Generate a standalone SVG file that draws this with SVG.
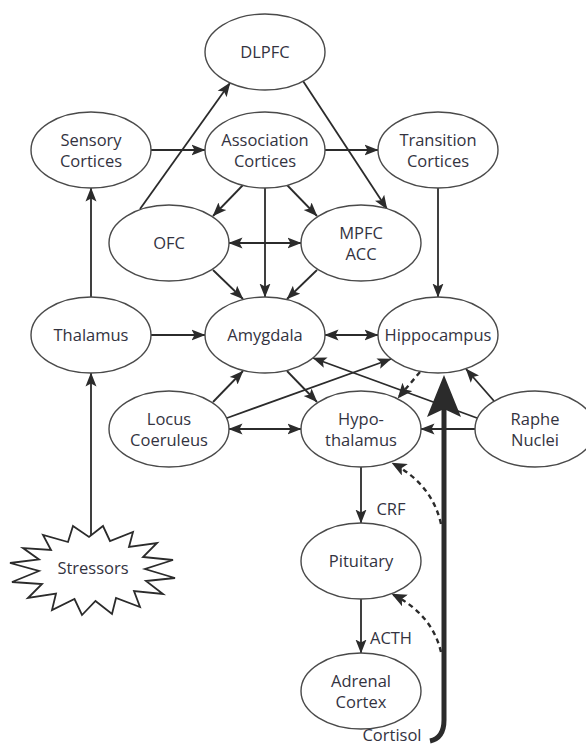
<svg xmlns="http://www.w3.org/2000/svg" width="586" height="749" viewBox="0 0 586 749">
<style>
.node ellipse{fill:#fff;stroke:#4a4a4a;stroke-width:1.4}
.node text,.lbl{font-family:"Open Sans","Noto Sans","DejaVu Sans",sans-serif;font-size:16.5px;fill:#33333f;text-anchor:middle}
.c{fill:none;stroke:#2b2b2b;stroke-width:1.8;marker-end:url(#ah)}
.b{marker-start:url(#ah)}
.d{fill:none;stroke:#2b2b2b;stroke-width:2.4;stroke-dasharray:5 4;marker-end:url(#ahd)}
</style>
<defs>
<marker id="ah" markerUnits="userSpaceOnUse" markerWidth="14" markerHeight="12" viewBox="0 0 14 11" refX="13.5" refY="5.5" orient="auto-start-reverse">
<path d="M0,0 L14,5.5 L0,11 L3,5.5 z" fill="#2b2b2b"/>
</marker>
<marker id="ahd" markerUnits="userSpaceOnUse" markerWidth="15" markerHeight="13" viewBox="0 0 15 13" refX="14.5" refY="6.5" orient="auto">
<path d="M0,0 L15,6.5 L0,13 L3.5,6.5 z" fill="#2b2b2b"/>
</marker>
</defs>
<rect width="586" height="749" fill="#fff"/>

<g id="connectors">
<path class="c" d="M91,297 L91,188"/>
<path class="c" d="M91,537 L91,373"/>
<path class="c" d="M151,335 L205,335"/>
<path class="c" d="M151,150 L205,150"/>
<path class="c" d="M325,150 L378,150"/>
<path class="c" d="M140,209 L230,83"/>
<path class="c" d="M303,81 L387,209"/>
<path class="c" d="M243,185 L213,216"/>
<path class="c" d="M265,188 L265,297"/>
<path class="c" d="M287,185 L317,216"/>
<path class="c b" d="M229,243 L301,243"/>
<path class="c" d="M213,270 L243,299"/>
<path class="c" d="M317,270 L287,299"/>
<path class="c" d="M438,188 L438,297"/>
<path class="c b" d="M325,335 L378,335"/>
<path class="c" d="M213,402 L243,371"/>
<path class="c" d="M227,418 L391,359"/>
<path class="c b" d="M229,429 L301,429"/>
<path class="c" d="M287,371 L317,402"/>
<path class="c" d="M477,418 L313,358"/>
<path class="c" d="M494,401 L466,369"/>
<path class="c" d="M476,429 L421,429"/>
<path class="d" d="M420,372 L398,398"/>
<path class="c" d="M361,467 L361,523"/>
<path class="c" d="M361,599 L361,653"/>
<path class="d" d="M441,524 Q432,484 392,463"/>
<path class="d" d="M441,652 Q432,614 392,594"/>
<path d="M430,741 Q444,738 444,720 L444,405" fill="none" stroke="#2b2b2b" stroke-width="5"/>
<path d="M444,375 L461,417 L444,409 L427,417 z" fill="#2b2b2b"/>
</g>

<g id="dlpfc" class="node"><ellipse cx="265" cy="52" rx="60" ry="38"/><text x="265" y="58">DLPFC</text></g>
<g id="sensory" class="node"><ellipse cx="91" cy="150" rx="60" ry="38"/><text x="91" y="145.5">Sensory</text><text x="91" y="166.5">Cortices</text></g>
<g id="association" class="node"><ellipse cx="265" cy="150" rx="60" ry="38"/><text x="265" y="145.5">Association</text><text x="265" y="166.5">Cortices</text></g>
<g id="transition" class="node"><ellipse cx="438" cy="150" rx="60" ry="38"/><text x="438" y="145.5">Transition</text><text x="438" y="166.5">Cortices</text></g>
<g id="ofc" class="node"><ellipse cx="169" cy="243" rx="60" ry="38"/><text x="169" y="249">OFC</text></g>
<g id="mpfc" class="node"><ellipse cx="361" cy="243" rx="60" ry="38"/><text x="361" y="238.5">MPFC</text><text x="361" y="259.5">ACC</text></g>
<g id="thalamus" class="node"><ellipse cx="91" cy="335" rx="60" ry="38"/><text x="91" y="341">Thalamus</text></g>
<g id="amygdala" class="node"><ellipse cx="265" cy="335" rx="60" ry="38"/><text x="265" y="341">Amygdala</text></g>
<g id="hippocampus" class="node"><ellipse cx="438" cy="335" rx="60" ry="38"/><text x="438" y="341">Hippocampus</text></g>
<g id="locus" class="node"><ellipse cx="169" cy="429" rx="60" ry="38"/><text x="169" y="424.5">Locus</text><text x="169" y="445.5">Coeruleus</text></g>
<g id="hypothalamus" class="node"><ellipse cx="361" cy="429" rx="60" ry="38"/><text x="361" y="425">Hypo-</text><text x="361" y="446">thalamus</text></g>
<g id="raphe" class="node"><ellipse cx="535" cy="429" rx="60" ry="38"/><text x="535" y="424.5">Raphe</text><text x="535" y="445.5">Nuclei</text></g>
<g id="pituitary" class="node"><ellipse cx="361" cy="561" rx="60" ry="38"/><text x="361" y="567">Pituitary</text></g>
<g id="adrenal" class="node"><ellipse cx="361" cy="691" rx="60" ry="38"/><text x="361" y="686.5">Adrenal</text><text x="361" y="707.5">Cortex</text></g>
<g id="stressors" class="node">
<polygon points="73,526 89,537 103,526 110,541 133,532 129,547 157,543 143,557 173,560 145,569 175,578 146,581 163,594 134,591 140,607 116,598 112,614 95.5,601 82,615 74.5,599 52,610 56,593.5 28,598 42,584 12,582 39,571 10,563 39,559.5 23,548 51,550 43,535 68,542" fill="#fff" stroke="#2b2b2b" stroke-width="1.8" stroke-linejoin="miter"/>
<text x="93" y="574">Stressors</text>
</g>

<g id="labels">
<text class="lbl" x="391" y="515">CRF</text>
<text class="lbl" x="391" y="644">ACTH</text>
<text class="lbl" x="392" y="741">Cortisol</text>
</g>
</svg>
